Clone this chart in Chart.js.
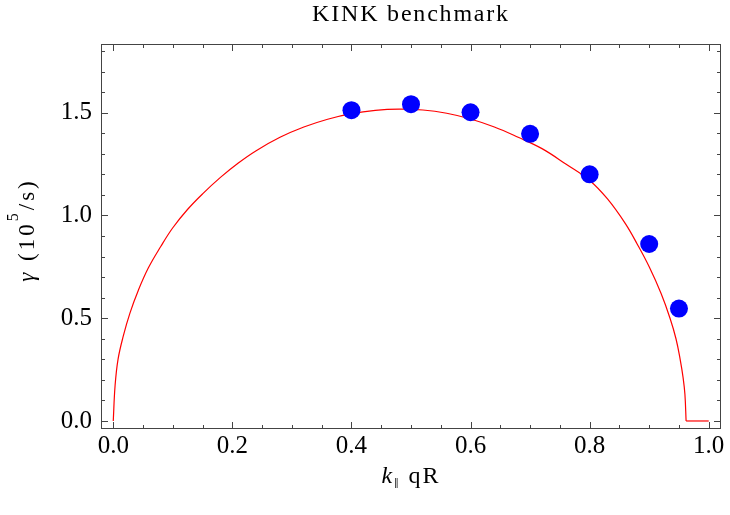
<!DOCTYPE html>
<html>
<head>
<meta charset="utf-8">
<script src="https://cdn.jsdelivr.net/npm/chart.js@4.4.1/dist/chart.umd.min.js"></script>
<style>
  html,body{margin:0;padding:0;background:#fff;}
  #wrap{width:730px;height:515px;position:relative;}
</style>
</head>
<body>
<div id="wrap"><canvas id="c" width="730" height="515"></canvas></div>
<script>
// ---- data ----
const titleText = "KINK benchmark";
const xTitleParts = ["k", "\u2016", " qR"];          // k (italic), subscript ‖, " qR"
const yTitleParts = ["\u03B3", " (10", "5", "/s)"];  // γ (italic), " (10", superscript 5, "/s)"

// red curve (growth-rate fit); the last two points are the flat zero tail
const curveX = [0, 0.003, 0.008, 0.017, 0.028, 0.042, 0.059, 0.08, 0.10, 0.125, 0.15, 0.18, 0.21, 0.24, 0.28, 0.32, 0.36, 0.40, 0.44, 0.48, 0.52, 0.56, 0.60, 0.64, 0.68, 0.72, 0.76, 0.80, 0.83, 0.86, 0.88, 0.90, 0.92, 0.935, 0.945, 0.952, 0.957, 0.960, 0.962, 1.0];
const curveY = [0, 0.17, 0.30, 0.415, 0.525, 0.635, 0.745, 0.85, 0.94, 1.03, 1.105, 1.185, 1.255, 1.315, 1.38, 1.43, 1.468, 1.495, 1.511, 1.517, 1.513, 1.497, 1.469, 1.43, 1.38, 1.325, 1.25, 1.17, 1.08, 0.96, 0.86, 0.75, 0.62, 0.50, 0.40, 0.30, 0.21, 0.13, 0, 0];

// blue simulation points
const pointsX = [0.4, 0.5, 0.6, 0.7, 0.8, 0.9, 0.95];
const pointsY = [1.512, 1.541, 1.502, 1.397, 1.200, 0.861, 0.547];

const xTickLabels = [0.0, 0.2, 0.4, 0.6, 0.8, 1.0];
const yTickLabels = [0.0, 0.5, 1.0, 1.5];

// ---- chart ----
const SERIF = "'Liberation Serif', 'Times New Roman', serif";

const curvePts = curveX.map((v, i) => ({x: v, y: curveY[i]}));
const tailStart = curvePts.length - 2;
const mainCurve = curvePts.slice(0, tailStart + 1);
const tailCurve = curvePts.slice(tailStart);

const frameTicks = {
  id: 'frameTicks',
  afterDraw(chart) {
    const {ctx, chartArea: a, scales: {x, y}} = chart;
    ctx.save();
    ctx.strokeStyle = '#444';
    ctx.lineWidth = 1;
    ctx.strokeRect(Math.round(a.left) + 0.5, Math.round(a.top) + 0.5,
                   Math.round(a.right) - Math.round(a.left) - 1, Math.round(a.bottom) - Math.round(a.top) - 1);
    ctx.beginPath();
    for (let i = 0; i <= 20; i++) {
      const v = i * 0.05;
      const px = Math.round(x.getPixelForValue(v)) + 0.5;
      const len = (i % 4 === 0) ? 7 : 4;
      ctx.moveTo(px, a.bottom); ctx.lineTo(px, a.bottom - len);
      ctx.moveTo(px, a.top); ctx.lineTo(px, a.top + len);
    }
    for (let i = 0; i <= 18; i++) {
      const v = i * 0.1;
      const py = Math.round(y.getPixelForValue(v)) + 0.5;
      const len = (i % 5 === 0) ? 7 : 4;
      ctx.moveTo(a.left, py); ctx.lineTo(a.left + len, py);
      ctx.moveTo(a.right, py); ctx.lineTo(a.right - len, py);
    }
    ctx.stroke();

    ctx.fillStyle = '#000';
    ctx.textBaseline = 'alphabetic';
    ctx.textAlign = 'left';
    const cx = (a.left + a.right) / 2;

    // title
    ctx.font = "24px " + SERIF;
    ctx.letterSpacing = '1.8px';
    const tw = ctx.measureText(titleText).width;
    ctx.fillText(titleText, cx - tw / 2, 21);

    // x axis title: k‖ qR
    ctx.letterSpacing = '2px';
    const base = 483;
    const fMain = "24px " + SERIF, fIt = "italic 24px " + SERIF, fSub = "15px " + SERIF;
    ctx.font = fIt; const w0 = ctx.measureText(xTitleParts[0]).width;
    ctx.font = fSub; const w1 = ctx.measureText(xTitleParts[1]).width;
    ctx.font = fMain; const w2 = ctx.measureText(xTitleParts[2]).width;
    let sx = cx - (w0 + w1 + w2) / 2;
    ctx.font = fIt; ctx.fillText(xTitleParts[0], sx, base); sx += w0;
    ctx.font = fSub; ctx.fillText(xTitleParts[1], sx, base + 5); sx += w1;
    ctx.font = fMain; ctx.fillText(xTitleParts[2], sx, base);

    // y axis title: γ (10^5/s), rotated
    ctx.save();
    ctx.letterSpacing = '3px';
    ctx.translate(34, 230);
    ctx.rotate(-Math.PI / 2);
    const yMain = "23px " + SERIF, yIt = "italic 23px " + SERIF, ySup = "16px " + SERIF;
    ctx.font = yIt; const v0 = ctx.measureText(yTitleParts[0]).width;
    ctx.font = yMain; const v1 = ctx.measureText(yTitleParts[1]).width;
    ctx.font = ySup; const v2 = ctx.measureText(yTitleParts[2]).width;
    ctx.font = yMain; const v3 = ctx.measureText(yTitleParts[3]).width;
    let tx = -(v0 + v1 + v2 + v3) / 2;
    ctx.font = yIt; ctx.fillText(yTitleParts[0], tx, 0); tx += v0;
    ctx.font = yMain; ctx.fillText(yTitleParts[1], tx, 0); tx += v1;
    ctx.font = ySup; ctx.fillText(yTitleParts[2], tx, -16); tx += v2;
    ctx.font = yMain; ctx.fillText(yTitleParts[3], tx, 0);
    ctx.restore();

    ctx.restore();
  }
};

new Chart(document.getElementById('c'), {
  type: 'scatter',
  data: {
    datasets: [
      {
        data: pointsX.map((v, i) => ({x: v, y: pointsY[i]})),
        showLine: false,
        pointRadius: 9,
        pointBackgroundColor: '#0000FF',
        pointBorderWidth: 0,
        order: 0
      },
      {
        data: mainCurve,
        showLine: true,
        borderColor: '#FF0000',
        borderWidth: 1.2,
        pointRadius: 0,
        tension: 0.4,
        fill: false,
        order: 1
      },
      {
        data: tailCurve,
        showLine: true,
        borderColor: '#FF0000',
        borderWidth: 1.2,
        pointRadius: 0,
        tension: 0,
        fill: false,
        order: 1
      }
    ]
  },
  options: {
    responsive: false,
    animation: false,
    devicePixelRatio: 1,
    layout: {padding: {top: 44, right: 7, left: 0, bottom: 0}},
    plugins: {
      legend: {display: false},
      tooltip: {enabled: false},
      title: {display: false}
    },
    scales: {
      x: {
        type: 'linear',
        min: -0.0206,
        max: 1.0206,
        afterBuildTicks: s => { s.ticks = xTickLabels.map(v => ({value: v})); },
        afterFit: s => { s.height = 86; },
        grid: {display: false, drawTicks: false},
        border: {display: false},
        ticks: {
          color: '#000',
          font: {family: SERIF, size: 25},
          padding: 2,
          maxRotation: 0,
          callback: v => Number(v).toFixed(1)
        }
      },
      y: {
        type: 'linear',
        min: -0.039,
        max: 1.834,
        afterBuildTicks: s => { s.ticks = yTickLabels.map(v => ({value: v})); },
        afterFit: s => { s.width = 101; },
        grid: {display: false, drawTicks: false},
        border: {display: false},
        ticks: {
          color: '#000',
          font: {family: SERIF, size: 25},
          padding: 9,
          callback: v => Number(v).toFixed(1)
        }
      }
    }
  },
  plugins: [frameTicks]
});
</script>
</body>
</html>
